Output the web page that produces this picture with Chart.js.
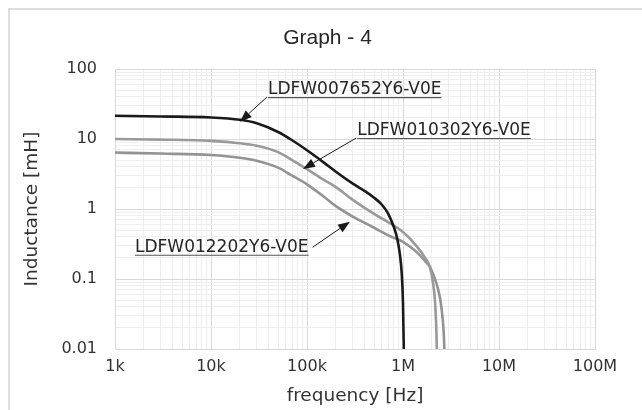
<!DOCTYPE html>
<html>
<head>
<meta charset="utf-8">
<script src="https://cdn.jsdelivr.net/npm/chart.js@4.4.1/dist/chart.umd.min.js"></script>
<style>
  html, body { margin: 0; padding: 0; background: #fff; }
</style>
</head>
<body>
<canvas id="chart" width="642" height="410"></canvas>
<script>
// values: frequency [Hz] / inductance [mH]
const freq007652 = [1e3, 3e3, 1e4, 2e4, 3e4, 5e4, 7e4, 1e5, 1.5e5, 2e5, 3e5, 4e5, 5e5, 6e5, 7e5, 8e5, 8.7e5, 9.3e5, 9.7e5, 1.0e6, 1.01e6, 1.02e6];
const ind007652  = [21.5, 21.0, 20.3, 18.8, 16.8, 12.6, 9.6, 6.9, 4.6, 3.4, 2.3, 1.8, 1.45, 1.16, 0.86, 0.56, 0.38, 0.22, 0.12, 0.045, 0.02, 0.01];

const freq010302 = [1e3, 3e3, 1e4, 2e4, 3e4, 5e4, 7e4, 1e5, 1.5e5, 2e5, 3e5, 5e5, 7e5, 1e6, 1.4e6, 1.7e6, 1.9e6, 2.05e6, 2.15e6, 2.2e6, 2.23e6, 2.25e6];
const ind010302  = [10.0, 9.8, 9.4, 8.7, 8.0, 6.5, 5.0, 3.7, 2.6, 2.05, 1.35, 0.85, 0.65, 0.47, 0.29, 0.2, 0.15, 0.09, 0.05, 0.028, 0.017, 0.01];

const freq012202 = [1e3, 3e3, 1e4, 2e4, 3e4, 5e4, 7e4, 1e5, 1.5e5, 2e5, 3e5, 5e5, 7e5, 1e6, 1.4e6, 1.7e6, 1.9e6, 2.1e6, 2.3e6, 2.45e6, 2.57e6, 2.65e6, 2.7e6];
const ind012202  = [6.4, 6.2, 5.9, 5.4, 4.9, 3.9, 3.0, 2.25, 1.5, 1.1, 0.78, 0.54, 0.42, 0.34, 0.24, 0.18, 0.15, 0.11, 0.075, 0.05, 0.03, 0.018, 0.01];

const freqTicks = [1e3, 1e4, 1e5, 1e6, 1e7, 1e8];
const freqTickLabels = ['1k', '10k', '100k', '1M', '10M', '100M'];
const indTicks = [0.01, 0.1, 1, 10, 100];
const indTickLabels = ['0.01', '0.1', '1', '10', '100'];

// part number labels: text left edge / baseline and arrow tip, in data units
const partNames = ['LDFW007652Y6-V0E', 'LDFW010302Y6-V0E', 'LDFW012202Y6-V0E'];
const partTextFreq = [39.2e3, 334e3, 1.615e3];
const partTextInd = [43.9, 11.4, 0.245];
const partTipFreq = [20e3, 90.9e3, 280e3];
const partTipInd = [17.6, 3.73, 0.66];

const points = (xs, ys) => xs.map((x, i) => ({ x, y: ys[i] }));

const isMajor = v => Math.abs(Math.log10(v) - Math.round(Math.log10(v))) < 1e-6;
const labelFor = (v, ticks, labels) => {
  const i = ticks.findIndex(t => Math.abs(t - v) / t < 1e-6);
  return i >= 0 ? labels[i] : '';
};
// 1..9 per decade, so Excel-like minor grid
const logTicks = majors => {
  const out = [];
  for (let i = 0; i < majors.length - 1; i++) {
    for (let m = 1; m <= 9; m++) out.push({ value: m * majors[i] });
  }
  out.push({ value: majors[majors.length - 1] });
  return out;
};

const gridColor = c => (c.tick && isMajor(c.tick.value)) ? '#d9d9d9' : '#eeeeee';

const framePlugin = {
  id: 'frame',
  beforeDraw(chart) {
    const { ctx, width } = chart;
    ctx.save();
    ctx.strokeStyle = '#d4d4d4';
    ctx.lineWidth = 1.5;
    ctx.strokeRect(9, 9, width + 20, 440);
    ctx.fillStyle = '#262626';
    ctx.font = '21px "Liberation Sans", Arial, sans-serif';
    ctx.textAlign = 'center';
    ctx.textBaseline = 'middle';
    ctx.fillText('Graph - 4', (9 + width + 4) / 2, 38);
    ctx.restore();
  }
};

function drawArrow(ctx, x0, y0, x1, y1) {
  const a = Math.atan2(y1 - y0, x1 - x0);
  const len = 12, half = 4.5;
  const bx = x1 - len * Math.cos(a), by = y1 - len * Math.sin(a);
  ctx.beginPath();
  ctx.moveTo(x0, y0);
  ctx.lineTo(bx, by);
  ctx.stroke();
  ctx.beginPath();
  ctx.moveTo(x1, y1);
  ctx.lineTo(bx + half * Math.sin(a), by - half * Math.cos(a));
  ctx.lineTo(bx - half * Math.sin(a), by + half * Math.cos(a));
  ctx.closePath();
  ctx.fill();
}

const partLabelPlugin = {
  id: 'partLabels',
  afterDatasetsDraw(chart) {
    const { ctx, scales: { x, y } } = chart;
    ctx.save();
    ctx.font = '17px "DejaVu Sans", sans-serif';
    ctx.textBaseline = 'alphabetic';
    ctx.textAlign = 'left';
    partNames.forEach((name, i) => {
      const tx = x.getPixelForValue(partTextFreq[i]);
      const ty = y.getPixelForValue(partTextInd[i]);
      const w = ctx.measureText(name).width;
      ctx.fillStyle = '#262626';
      ctx.fillText(name, tx, ty);
      ctx.strokeStyle = '#555';
      ctx.lineWidth = 1.2;
      ctx.beginPath();
      ctx.moveTo(tx, ty + 3.5);
      ctx.lineTo(tx + w, ty + 3.5);
      ctx.stroke();

      // arrow leaves from left end of the underline, or right end for the bottom label
      const sx = i === 2 ? tx + w + 4 : tx - 1;
      const sy = i === 2 ? ty - 4.5 : ty + 3;
      ctx.strokeStyle = '#1a1a1a';
      ctx.fillStyle = '#1a1a1a';
      ctx.lineWidth = 1;
      drawArrow(ctx, sx, sy, x.getPixelForValue(partTipFreq[i]), y.getPixelForValue(partTipInd[i]));
    });
    ctx.restore();
  }
};

new Chart(document.getElementById('chart'), {
  type: 'line',
  data: {
    datasets: [
      {
        label: 'LDFW007652Y6-V0E',
        data: points(freq007652, ind007652),
        borderColor: '#1a1a1a',
        borderWidth: 2.6,
        order: 0
      },
      {
        label: 'LDFW010302Y6-V0E',
        data: points(freq010302, ind010302),
        borderColor: '#9a9a9a',
        borderWidth: 2.6,
        order: 1
      },
      {
        label: 'LDFW012202Y6-V0E',
        data: points(freq012202, ind012202),
        borderColor: '#939393',
        borderWidth: 2.6,
        order: 2
      }
    ]
  },
  options: {
    responsive: false,
    animation: false,
    layout: { padding: { left: 9, right: 47, top: 69, bottom: 0 } },
    elements: {
      point: { radius: 0 },
      line: { cubicInterpolationMode: 'monotone', fill: false }
    },
    plugins: {
      legend: { display: false },
      tooltip: { enabled: false }
    },
    scales: {
      x: {
        type: 'logarithmic',
        min: 1e3,
        max: 1e8,
        afterBuildTicks: s => { s.ticks = logTicks(freqTicks); },
        afterFit: s => { s.height = 61; },
        grid: { color: gridColor, drawTicks: false },
        border: { color: '#d9d9d9' },
        ticks: {
          autoSkip: false,
          maxRotation: 0,
          padding: 8,
          color: '#333',
          font: { family: 'DejaVu Sans', size: 16 },
          callback: v => labelFor(v, freqTicks, freqTickLabels)
        },
        title: {
          display: true,
          text: 'frequency [Hz]',
          color: '#333',
          font: { family: 'DejaVu Sans', size: 18.5 },
          padding: { top: 0, bottom: 3 }
        }
      },
      y: {
        type: 'logarithmic',
        min: 0.01,
        max: 100,
        afterBuildTicks: s => { s.ticks = logTicks(indTicks); },
        afterFit: s => { s.width = 106; },
        grid: { color: gridColor, drawTicks: false },
        border: { color: '#d9d9d9' },
        ticks: {
          autoSkip: false,
          padding: 18,
          color: '#333',
          font: { family: 'DejaVu Sans', size: 16 },
          callback: v => labelFor(v, indTicks, indTickLabels)
        },
        title: {
          display: true,
          text: 'Inductance [mH]',
          color: '#333',
          font: { family: 'DejaVu Sans', size: 18.5 },
          padding: { top: 12, bottom: 0 }
        }
      }
    }
  },
  plugins: [framePlugin, partLabelPlugin]
});
</script>
</body>
</html>
